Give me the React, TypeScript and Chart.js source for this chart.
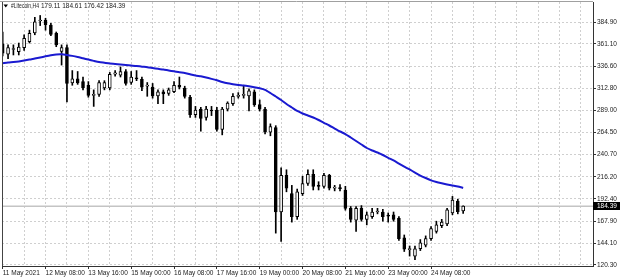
import React, { useEffect, useRef } from 'react';
import { Chart, registerables } from 'chart.js';

Chart.register(...registerables);

const symbolTitle = '#Litecoin,H4';
const titleValues = '179.11 184.61 176.42 184.39';
const lastPrice = 184.39;

// H4 candles, index 0 = 11 May 2021 00:00
const opens = [
  361, 350, 355, 352.6, 357, 363.5, 373, 386, 387, 381.5,
  372.5, 353, 357, 318.5, 323, 320, 316, 305, 306, 313,
  313, 328, 327, 331, 319, 324, 322.5, 315, 314, 304.5,
  309, 307, 309, 316, 313, 303, 284, 290, 281, 289,
  289, 268, 290, 296, 304, 305, 304.5, 309, 295, 290,
  265, 270, 178, 218, 198, 173, 198, 209, 219, 207,
  206, 218, 204, 204, 202, 182, 169, 182, 170, 173,
  178, 178, 174, 175, 171, 150, 137, 130, 138, 142,
  149, 157, 163, 165, 177, 190, 179.11,
];
const highs = [
  374, 360, 360, 362, 371, 376, 390, 392, 389, 383.5,
  374, 360, 360, 332, 331, 325, 320, 311, 321, 321,
  330, 332, 336, 333, 331, 332, 325, 319, 318, 311,
  311, 313, 320, 325, 315, 305, 293, 292, 293, 293,
  292, 292, 298, 307, 308, 316, 312, 311, 300, 292,
  274, 272, 226, 224, 207, 203, 217, 224, 224, 211,
  220, 219, 207, 208, 206, 184, 184, 185, 178, 182,
  182, 181, 177, 178, 173, 153, 141, 141, 148, 152,
  162, 168, 170, 182, 195, 192, 184.61,
];
const lows = [
  348, 345, 349, 349, 354, 362, 371, 381, 376, 370,
  358, 338, 298, 316, 317, 311, 303, 293, 304, 311,
  311, 326, 325, 316, 317, 321, 310, 304, 302, 296,
  296, 305, 308, 312, 302, 281, 281, 266, 278, 283,
  266, 262, 288, 294, 302, 302, 288, 293, 288, 263,
  261, 155, 146, 200, 167, 170, 196, 207, 202, 202,
  204, 202, 201, 201, 180, 167, 157, 168, 164, 171,
  176, 168, 167, 168, 147, 135, 130, 126, 136, 140,
  147, 155, 161, 163, 175, 176, 176.42,
];
const closes = [
  351, 357, 355.5, 357.5, 367, 372.5, 385, 387, 382, 371.5,
  360, 357, 318, 323, 318.5, 313, 305, 306, 319, 319,
  328, 329.5, 331, 318, 325, 323, 314, 315.5, 304.5, 309,
  306.5, 311, 316, 314, 304, 284, 289, 280, 290, 288,
  268, 290, 296.5, 304, 305, 306, 310, 295, 290, 265.5,
  271, 178, 218, 204, 173, 200, 209, 219, 206, 206,
  218, 204, 204.5, 203.5, 182, 170, 182, 170, 175, 178,
  178.5, 173, 173.5, 170, 149, 137.5, 138, 138, 144.5, 149,
  160, 164, 167, 180.5, 191, 178.5, 184.39,
];
// moving average (blue line) read at each candle
const maValues = [
  340.0, 340.8, 341.3, 342.0, 343.0, 344.0, 345.2, 346.3, 347.5, 348.6,
  349.5, 349.7, 349.0, 348.0, 346.8, 345.4, 344.0, 342.6, 341.3, 340.5,
  339.7, 339.2, 338.6, 338.0, 337.5, 337.0, 336.3, 335.7, 334.8, 333.9,
  333.1, 332.1, 331.2, 330.2, 329.4, 328.1, 326.6, 325.8, 324.5, 323.0,
  321.4, 319.6, 318.2, 317.2, 316.3, 315.8, 314.9, 313.8, 312.7, 311.0,
  307.6, 303.8, 300.0, 295.6, 291.8, 288.0, 285.3, 283.1, 280.9, 278.2,
  275.1, 272.2, 268.9, 265.7, 262.9, 259.1, 255.3, 251.5, 247.7, 245.0,
  242.8, 240.1, 237.0, 234.1, 230.8, 227.5, 224.3, 221.0, 217.7, 215.0,
  212.5, 210.7, 209.3, 208.0, 206.9, 205.8, 204.2,
];

const yTicks = [384.9, 361.1, 336.6, 312.8, 289.0, 264.5, 240.7, 216.2, 192.4, 167.9, 144.1, 120.3];
const xGridIdx = [0, 4, 8, 12, 16, 20, 24, 28, 32, 36, 40, 44, 48, 52, 56, 60, 64, 68, 72, 76, 80, 84, 88, 92, 96, 100, 104, 108];
const xLabelIdx = [0, 8, 16, 24, 32, 40, 48, 56, 64, 72, 80];
const xLabels = [
  '11 May 2021', '12 May 08:00', '13 May 16:00', '15 May 00:00', '16 May 08:00',
  '17 May 16:00', '19 May 00:00', '20 May 08:00', '21 May 16:00', '23 May 00:00', '24 May 08:00',
];

const FONT_FAMILY = '"Liberation Sans", Arial, sans-serif';
const TEXT_COLOR = '#222';
const GRID_COLOR = '#cfcfcf';

const overlayPlugin = {
  id: 'mtOverlay',
  beforeDatasetsDraw(chart: any) {
    const { ctx, chartArea, scales } = chart;
    const py = scales.y.getPixelForValue(lastPrice);
    ctx.save();
    ctx.strokeStyle = '#c4c4c4';
    ctx.lineWidth = 1.5;
    ctx.beginPath();
    ctx.moveTo(chartArea.left, py);
    ctx.lineTo(chartArea.right, py);
    ctx.stroke();
    ctx.restore();
  },
  afterDraw(chart: any) {
    const { ctx, chartArea, scales } = chart;
    const { left, right, top, bottom } = chartArea;
    ctx.save();
    // top border
    ctx.strokeStyle = '#a0a0a0';
    ctx.lineWidth = 1;
    ctx.beginPath();
    ctx.moveTo(0, top - 0.5);
    ctx.lineTo(right, top - 0.5);
    ctx.stroke();
    // left border
    ctx.strokeStyle = '#444';
    ctx.beginPath();
    ctx.moveTo(left + 0.5, top);
    ctx.lineTo(left + 0.5, bottom);
    ctx.stroke();
    // price label
    const py = scales.y.getPixelForValue(lastPrice);
    ctx.fillStyle = '#000';
    ctx.fillRect(right, Math.round(py) - 4, 27, 8);
    ctx.fillStyle = '#fff';
    ctx.font = `6.5px ${FONT_FAMILY}`;
    ctx.textBaseline = 'middle';
    ctx.textAlign = 'left';
    ctx.fillText(lastPrice.toFixed(2), right + 4, Math.round(py));
    // title
    ctx.fillStyle = '#000';
    ctx.beginPath();
    ctx.moveTo(3.5, 4.5);
    ctx.lineTo(8, 4.5);
    ctx.lineTo(5.75, 7.5);
    ctx.closePath();
    ctx.fill();
    ctx.fillStyle = TEXT_COLOR;
    ctx.fillText(symbolTitle, 11, 6.5, 28);
    ctx.fillText(titleValues, 41, 6.5);
    ctx.restore();
  },
};

export default function App() {
  const ref = useRef<HTMLCanvasElement>(null);
  useEffect(() => {
    document.body.style.margin = '0';
    const canvas = ref.current;
    if (!canvas) return;
    const idx = opens.map((_, i) => i);
    const wickData = idx.map((i) => ({ x: i, y: [lows[i], highs[i]] }));
    const bodyData = idx.map((i) => ({ x: i, y: [opens[i], closes[i]] }));
    const maData = idx.map((i) => ({ x: i, y: maValues[i] }));
    const isUp = (i: number) => closes[i] > opens[i];

    const chart = new Chart(canvas, {
      type: 'bar',
      data: {
        datasets: [
          {
            type: 'line',
            data: maData as any,
            borderColor: '#1a1ad0',
            borderWidth: 2,
            pointRadius: 0,
            tension: 0.2,
            order: 0,
          } as any,
          {
            type: 'bar',
            data: bodyData as any,
            backgroundColor: (c: any) => (isUp(c.dataIndex) ? '#ffffff' : '#000000'),
            borderColor: '#000000',
            borderWidth: 1,
            borderSkipped: false,
            barThickness: 3,
            minBarLength: 1,
            grouped: false,
            order: 1,
          } as any,
          {
            type: 'bar',
            data: wickData as any,
            backgroundColor: '#000000',
            borderWidth: 0,
            barThickness: 1,
            grouped: false,
            order: 2,
          } as any,
        ],
      },
      options: {
        responsive: false,
        devicePixelRatio: 1,
        animation: false,
        layout: { padding: { left: 2, top: 2, right: 0, bottom: 0 } },
        plugins: {
          legend: { display: false },
          tooltip: { enabled: false },
          title: { display: false },
        },
        scales: {
          x: {
            type: 'linear',
            offset: false,
            min: -0.13,
            max: 110.25,
            afterBuildTicks: (scale: any) => {
              scale.ticks = xGridIdx.map((v) => ({ value: v }));
            },
            afterFit: (scale: any) => {
              scale.height = 14;
              scale.paddingLeft = 0;
              scale.paddingRight = 0;
            },
            ticks: {
              autoSkip: false,
              maxRotation: 0,
              minRotation: 0,
              align: 'start',
              padding: 0,
              color: TEXT_COLOR,
              font: { family: FONT_FAMILY, size: 6.5 },
              callback: (v: any) => {
                const k = xLabelIdx.indexOf(Number(v));
                return k >= 0 ? xLabels[k] : '';
              },
            },
            grid: {
              display: true,
              offset: false,
              drawOnChartArea: true,
              drawTicks: true,
              tickLength: 3,
              color: GRID_COLOR,
              lineWidth: 1,
              tickColor: (c: any) =>
                c.tick && xLabelIdx.indexOf(c.tick.value) >= 0 ? '#333' : 'rgba(0,0,0,0)',
              tickBorderDash: [],
            },
            border: { display: true, color: '#333', width: 1, dash: [2, 2] },
          },
          y: {
            type: 'linear',
            position: 'right',
            min: 119.21,
            max: 406.68,
            afterBuildTicks: (scale: any) => {
              scale.ticks = yTicks.map((v) => ({ value: v }));
            },
            afterFit: (scale: any) => {
              scale.width = 27;
              scale.paddingTop = 0;
              scale.paddingBottom = 0;
            },
            ticks: {
              padding: 1,
              color: TEXT_COLOR,
              font: { family: FONT_FAMILY, size: 6.5 },
              callback: (v: any) => Number(v).toFixed(2),
            },
            grid: {
              display: true,
              drawOnChartArea: true,
              drawTicks: true,
              tickLength: 3,
              color: GRID_COLOR,
              lineWidth: 1,
              tickColor: '#333',
              tickBorderDash: [],
            },
            border: { display: true, color: '#333', width: 1, dash: [2, 2] },
          },
        },
      },
      plugins: [overlayPlugin],
    } as any);
    return () => chart.destroy();
  }, []);

  return (
    <div style={{ width: 620, height: 280, background: '#fff' }}>
      <canvas ref={ref} width={620} height={280} style={{ display: 'block', width: 620, height: 280 }} />
    </div>
  );
}
